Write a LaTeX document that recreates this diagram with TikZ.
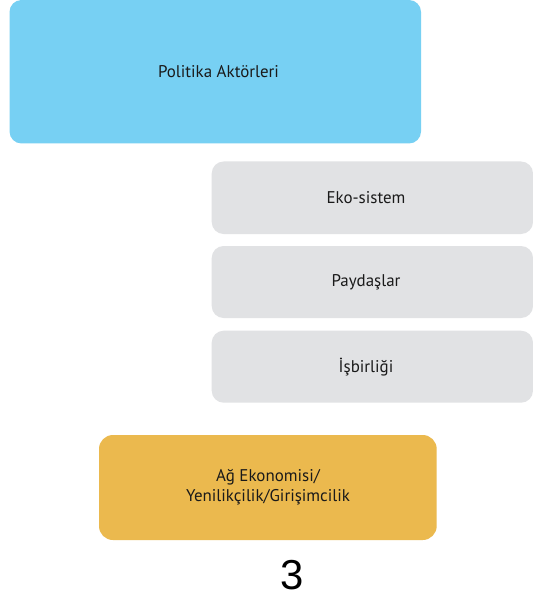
\documentclass[tikz,border=0pt]{standalone}
\usepackage{fontspec}
\setmainfont{PT Sans}
\newfontfamily\numfont{Liberation Sans}
\definecolor{boxblue}{RGB}{119,208,243}
\definecolor{boxgray}{RGB}{225,226,228}
\definecolor{boxorange}{RGB}{235,185,78}
\definecolor{txt}{RGB}{26,26,26}
\begin{document}
\begin{tikzpicture}[x=1bp,y=-1bp,
  card/.style={rounded corners=12bp, inner sep=0pt, draw=none},
  lbl/.style={font=\fontsize{17}{20}\selectfont, text=txt, inner sep=0pt, align=center}]
\useasboundingbox (0,0) rectangle (533,603);
\fill[white] (0,0) rectangle (533,603);
% boxes
\path[card, fill=boxblue] (9.5,0) rectangle (421,143.5);
\node[lbl] (politika) at (218.5,72) {Politika Aktörleri};
\path[card, fill=boxgray] (211.7,161.5) rectangle (533,234);
\node[lbl] (eko) at (366,197.5) {Eko-sistem};
\path[card, fill=boxgray] (211.7,246) rectangle (533,318);
\node[lbl] (payda) at (366,282) {Paydaşlar};
\path[card, fill=boxgray] (211.7,330.7) rectangle (533,402.7);
\node[lbl] (isbir) at (366,366.7) {İşbirliği};
\path[card, rounded corners=14bp, fill=boxorange] (99,435) rectangle (436.7,540);
\node[lbl] (ag) at (268,487) {Ağ Ekonomisi/\\Yenilikçilik/Girişimcilik};
\node[inner sep=0pt, text=black, font=\numfont\fontsize{42}{42}\selectfont] (num) at (292,575) {3};
\end{tikzpicture}
\end{document}
